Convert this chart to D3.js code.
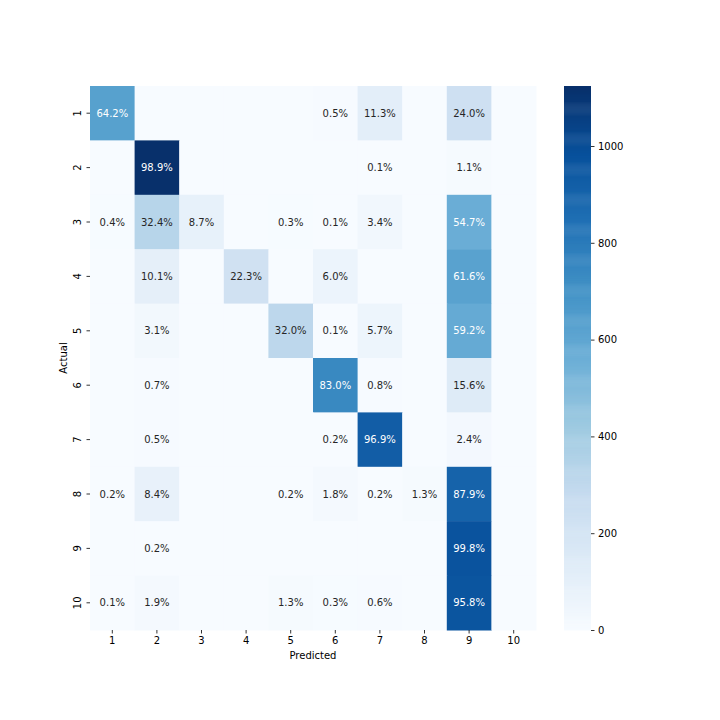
<!DOCTYPE html>
<html>
<head>
<meta charset="utf-8">
<script src="https://cdn.jsdelivr.net/npm/d3@7"></script>
<style>
  body { margin: 0; background: #fff; }
  text { font-family: "DejaVu Sans", sans-serif; }
</style>
</head>
<body>
<div id="chart"></div>
<script>
// labels for both axes
var classes = ['1', '2', '3', '4', '5', '6', '7', '8', '9', '10']

// share of each actual row that went to each predicted column (null = nothing)
var percents = [
  [64.2, null, null, null, null, 0.5, 11.3, null, 24.0, null],
  [null, 98.9, null, null, null, null, 0.1, null, 1.1, null],
  [0.4, 32.4, 8.7, null, 0.3, 0.1, 3.4, null, 54.7, null],
  [null, 10.1, null, 22.3, null, 6.0, null, null, 61.6, null],
  [null, 3.1, null, null, 32.0, 0.1, 5.7, null, 59.2, null],
  [null, 0.7, null, null, null, 83.0, 0.8, null, 15.6, null],
  [null, 0.5, null, null, null, 0.2, 96.9, null, 2.4, null],
  [0.2, 8.4, null, null, 0.2, 1.8, 0.2, 1.3, 87.9, null],
  [null, 0.2, null, null, null, null, null, null, 99.8, null],
  [0.1, 1.9, null, null, 1.3, 0.3, 0.6, null, 95.8, null]
]

// samples per actual class
var rowTotals = [980, 1135, 1032, 1010, 982, 892, 958, 1028, 974, 1009]

var cbTicks = [0, 200, 400, 600, 800, 1000]

var width = 720,
    height = 720,
    margin = {left: 90, top: 86},
    plotW = 446,
    plotH = 544

var cells = []
percents.forEach(function(row, i){
  row.forEach(function(p, j){
    cells.push({
      actual: classes[i],
      predicted: classes[j],
      pct: p,
      count: p == null ? 0 : Math.round(p / 100 * rowTotals[i])
    })
  })
})

var vmax = d3.max(cells, function(d){ return d.count })

// matplotlib "Blues", linear in rgb
var blues = ['#f7fbff', '#deebf7', '#c6dbef', '#9ecae1', '#6baed6',
             '#4292c6', '#2171b5', '#08519c', '#08306b']
var color = d3.scaleLinear()
    .domain(blues.map(function(c, i){ return i / (blues.length - 1) * vmax }))
    .range(blues)
    .interpolate(d3.interpolateRgb)
    .clamp(true)

function luminance(c){
  var rgb = d3.rgb(c)
  var lin = [rgb.r, rgb.g, rgb.b].map(function(v){
    v /= 255
    return v <= 0.03928 ? v / 12.92 : Math.pow((v + 0.055) / 1.055, 2.4)
  })
  return 0.2126 * lin[0] + 0.7152 * lin[1] + 0.0722 * lin[2]
}

var x = d3.scaleBand().domain(classes).range([0, plotW])
var y = d3.scaleBand().domain(classes).range([0, plotH])

var svg = d3.select('#chart')
  .append('svg')
    .attr('width', width)
    .attr('height', height)

var g = svg.append('g')
    .attr('transform', 'translate(' + margin.left + ',' + margin.top + ')')

g.selectAll('rect.cell')
    .data(cells)
  .enter().append('rect')
    .attr('class', 'cell')
    .attr('x', function(d){ return x(d.predicted) })
    .attr('y', function(d){ return y(d.actual) })
    .attr('width', x.bandwidth() + 0.5)
    .attr('height', y.bandwidth() + 0.5)
    .attr('fill', function(d){ return color(d.count) })

g.selectAll('text.annot')
    .data(cells.filter(function(d){ return d.pct != null }))
  .enter().append('text')
    .attr('class', 'annot')
    .attr('x', function(d){ return x(d.predicted) + x.bandwidth() / 2 })
    .attr('y', function(d){ return y(d.actual) + y.bandwidth() / 2 })
    .attr('dy', '0.35em')
    .attr('text-anchor', 'middle')
    .attr('font-size', 10)
    .attr('fill', function(d){ return luminance(color(d.count)) > 0.408 ? '#262626' : '#fff' })
    .text(function(d){ return d.pct.toFixed(1) + '%' })

// axes
var xAxis = g.append('g')
    .attr('transform', 'translate(0,' + plotH + ')')
    .call(d3.axisBottom(x).tickSize(3.5).tickPadding(3.5))
var yAxis = g.append('g')
    .call(d3.axisLeft(y).tickSize(3.5).tickPadding(3.5))

;[xAxis, yAxis].forEach(function(a){
  a.select('.domain').remove()
  a.selectAll('text').attr('font-size', 10).attr('font-family', '"DejaVu Sans", sans-serif').attr('fill', '#000')
  a.selectAll('line').attr('stroke', '#000').attr('stroke-width', 0.8)
})

yAxis.selectAll('.tick text')
    .attr('text-anchor', 'middle')
    .attr('x', 0)
    .attr('dy', 0)
    .attr('transform', 'translate(-12,0) rotate(-90)')
    .attr('dominant-baseline', 'middle')

g.append('text')
    .attr('x', plotW / 2)
    .attr('y', plotH + 29)
    .attr('text-anchor', 'middle')
    .attr('font-size', 10)
    .text('Predicted')

g.append('text')
    .attr('transform', 'translate(-23,' + plotH / 2 + ') rotate(-90)')
    .attr('text-anchor', 'middle')
    .attr('font-size', 10)
    .text('Actual')

// colorbar
var cbX = 564, cbW = 27
var cbScale = d3.scaleLinear().domain([0, 1124]).range([margin.top + plotH, margin.top])

var cb = svg.append('g')
var steps = d3.range(0, 1124, 2)
cb.selectAll('rect')
    .data(steps)
  .enter().append('rect')
    .attr('x', cbX)
    .attr('width', cbW)
    .attr('y', function(d){ return cbScale(Math.min(d + 2, 1124)) })
    .attr('height', function(d){ return cbScale(d) - cbScale(Math.min(d + 2, 1124)) + 0.5 })
    .attr('fill', function(d){ return color(d + 1) })

var cbAxis = svg.append('g')
    .attr('transform', 'translate(' + (cbX + cbW) + ',0)')
    .call(d3.axisRight(cbScale).tickValues(cbTicks).tickFormat(d3.format('d')).tickSize(3.5).tickPadding(3.5))
cbAxis.select('.domain').remove()
cbAxis.selectAll('text').attr('font-size', 10).attr('font-family', '"DejaVu Sans", sans-serif').attr('fill', '#000')
cbAxis.selectAll('line').attr('stroke', '#000').attr('stroke-width', 0.8)
</script>
</body>
</html>
